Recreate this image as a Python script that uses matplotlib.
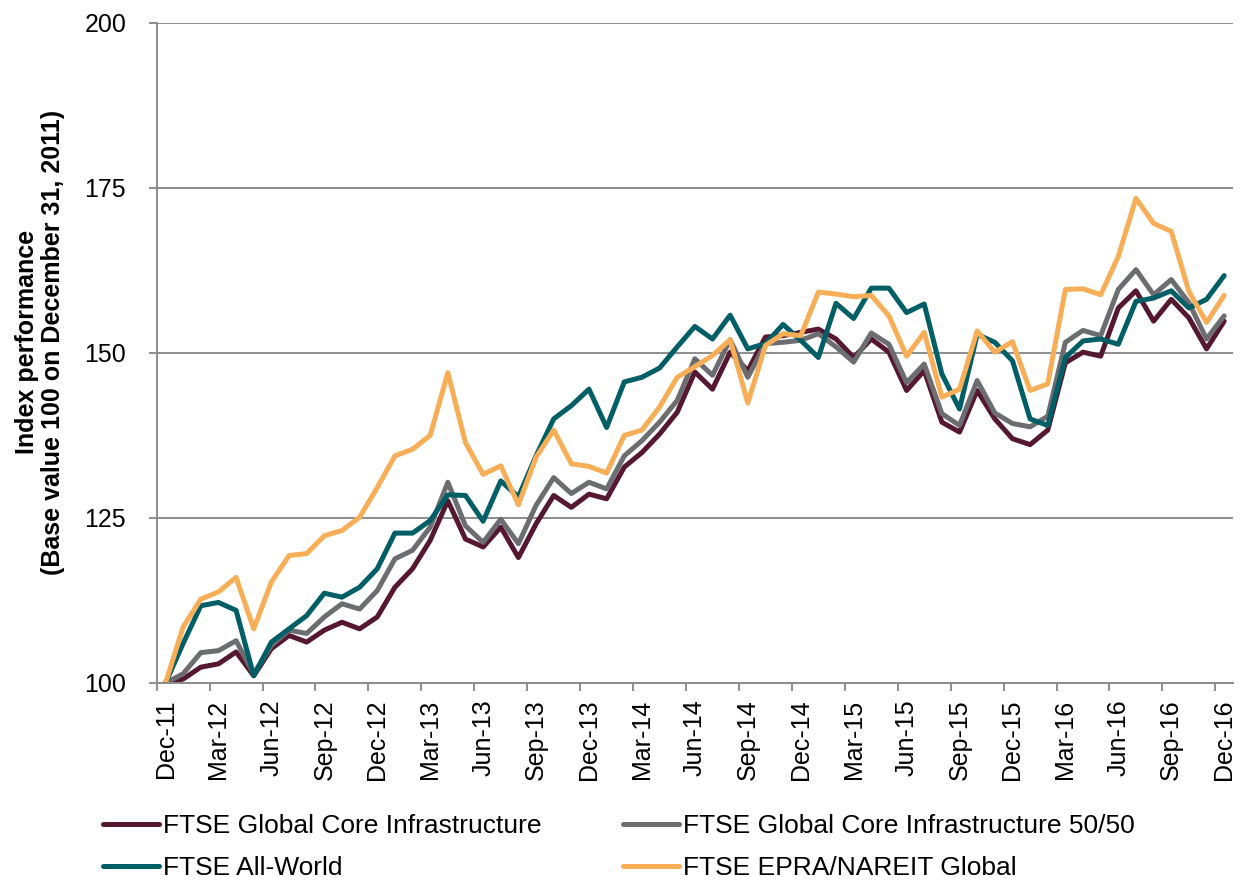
import matplotlib
matplotlib.use("Agg")
import matplotlib.pyplot as plt
import numpy as np
import pandas as pd

plt.rcParams['font.family'] = ['Liberation Sans', 'DejaVu Sans']

months = pd.date_range("2011-12-31", "2016-12-31", freq="ME").strftime("%b-%y").tolist()

core_infra = [100, 100.6, 102.4, 102.9, 104.7, 101.1, 105.2, 107.2, 106.2, 108.0,
              109.2, 108.2, 110.0, 114.5, 117.3, 121.6, 127.6, 121.8, 120.6, 123.6,
              119.0, 124.1, 128.4, 126.6, 128.6, 127.9, 132.7, 134.9, 137.7, 141.0,
              147.1, 144.5, 150.1, 147.3, 152.4, 152.6, 153.1, 153.6, 152.1, 149.3,
              152.1, 150.1, 144.3, 147.3, 139.5, 138.0, 144.3, 140.0, 137.0, 136.1,
              138.3, 148.5, 150.1, 149.5, 156.8, 159.4, 154.8, 158.1, 155.3, 150.6,
              154.8]

core_infra_5050 = [100, 101.4, 104.6, 104.9, 106.4, 101.4, 105.7, 108.0, 107.5, 110.0,
                   112.0, 111.2, 114.0, 118.8, 120.1, 123.6, 130.4, 123.8, 121.3, 124.8,
                   121.1, 126.9, 131.1, 128.7, 130.4, 129.4, 134.4, 136.7, 139.5, 142.8,
                   149.1, 146.6, 152.0, 146.3, 151.4, 151.6, 151.9, 152.9, 150.9, 148.6,
                   153.0, 151.3, 145.5, 148.3, 140.8, 139.0, 145.8, 140.9, 139.3, 138.8,
                   140.4, 151.6, 153.4, 152.6, 159.6, 162.6, 158.8, 161.1, 157.6, 152.1,
                   155.6]

all_world = [100, 106.0, 111.7, 112.2, 111.0, 101.1, 106.2, 108.2, 110.2, 113.6,
             113.0, 114.5, 117.3, 122.7, 122.7, 124.6, 128.5, 128.4, 124.5, 130.6,
             128.2, 134.4, 140.0, 142.0, 144.5, 138.7, 145.6, 146.3, 147.7, 150.9,
             154.0, 152.1, 155.7, 150.6, 151.4, 154.3, 151.9, 149.3, 157.5, 155.2,
             159.8, 159.8, 156.1, 157.4, 146.8, 141.5, 152.8, 151.6, 148.8, 140.0,
             139.0, 149.3, 151.8, 152.1, 151.3, 157.8, 158.3, 159.4, 156.8, 158.1,
             161.7]

epra_nareit = [100, 108.5, 112.7, 113.8, 116.0, 108.2, 115.3, 119.3, 119.6, 122.3,
               123.1, 125.1, 129.6, 134.4, 135.4, 137.5, 147.0, 136.4, 131.6, 132.9,
               127.0, 134.2, 138.3, 133.2, 132.8, 131.8, 137.5, 138.3, 141.8, 146.3,
               147.9, 149.6, 152.0, 142.4, 151.1, 152.9, 152.6, 159.2, 158.9, 158.5,
               158.7, 155.6, 149.5, 153.1, 143.3, 144.5, 153.3, 150.1, 151.7, 144.3,
               145.3, 159.6, 159.7, 158.8, 164.6, 173.4, 169.6, 168.4, 159.3, 154.6,
               158.7]

tick_labels = ["Dec-11", "Mar-12", "Jun-12", "Sep-12", "Dec-12", "Mar-13", "Jun-13",
               "Sep-13", "Dec-13", "Mar-14", "Jun-14", "Sep-14", "Dec-14", "Mar-15",
               "Jun-15", "Sep-15", "Dec-15", "Mar-16", "Jun-16", "Sep-16", "Dec-16"]

series_names = ["FTSE Global Core Infrastructure", "FTSE Global Core Infrastructure 50/50",
                "FTSE All-World", "FTSE EPRA/NAREIT Global"]
colors = ["#561730", "#6b6d70", "#005e66", "#f8ae57"]

W, H = 1241, 882
fig = plt.figure(figsize=(W / 100, H / 100), dpi=100)
ax = fig.add_axes([156.7 / W, 1 - 683 / H, (1233 - 156.7) / W, (683 - 22.7) / H])

x = np.arange(len(months))
data = [core_infra, core_infra_5050, all_world, epra_nareit]
lines = []
for vals, c, name in zip(data, colors, series_names):
    ln, = ax.plot(x, vals, color=c, lw=3.6, label=name,
                  solid_joinstyle='round', solid_capstyle='round')
    lines.append(ln)

ax.set_xlim(-0.5, len(months) - 0.5)
ax.set_ylim(100, 200)
ax.set_yticks([100, 125, 150, 175, 200])
ax.yaxis.grid(True, color="#8c8c8c", lw=1.4)
ax.set_axisbelow(True)

label_pos = [months.index(l) for l in tick_labels]
ax.set_xticks(label_pos)
ax.set_xticklabels(tick_labels, rotation=90, fontsize=18)
ax.set_xticks(np.array(label_pos) - 0.5, minor=True)
ax.tick_params(axis='x', which='major', length=0, pad=12)
ax.tick_params(axis='x', which='minor', length=6, width=1.4, color="#8c8c8c", direction='out')
ax.tick_params(axis='y', which='major', length=6, width=1.4, color="#8c8c8c",
               direction='out', labelsize=18, pad=16)

for s in ['top', 'right']:
    ax.spines[s].set_visible(False)
for s in ['left', 'bottom']:
    ax.spines[s].set_color("#8c8c8c")
    ax.spines[s].set_linewidth(1.4)

ax.set_ylabel("Index performance\n(Base value 100 on December 31, 2011)",
              fontsize=18, fontweight='bold', linespacing=1.1)
ax.yaxis.set_label_coords((65 - 156.7) / 1076.3, 0.516)

leg_kw = dict(frameon=False, fontsize=19, handlelength=2.12, handletextpad=0.15,
              labelspacing=0.68, borderpad=0, borderaxespad=0, loc='upper left')
leg1 = fig.legend([lines[0], lines[2]], [series_names[0], series_names[2]],
                  bbox_to_anchor=(103 / W, 1 - 814 / H), **leg_kw)
leg2 = fig.legend([lines[1], lines[3]], [series_names[1], series_names[3]],
                  bbox_to_anchor=(623 / W, 1 - 814 / H), **leg_kw)

fig.savefig("out.png", dpi=100)
